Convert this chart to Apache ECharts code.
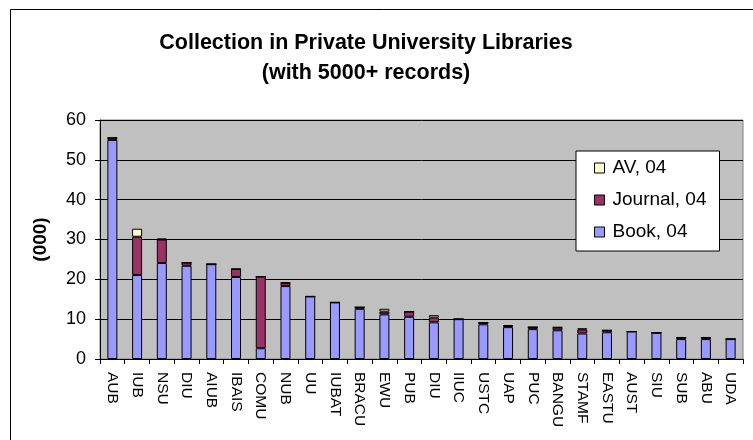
<!DOCTYPE html>
<html><head><meta charset="utf-8">
<script src="https://cdn.jsdelivr.net/npm/echarts@6/dist/echarts.min.js"></script>
<style>html,body{margin:0;padding:0;background:#fff}#c{width:753px;height:440px}</style>
</head><body><div id="c"></div>
<script>
const categories = ["AUB","IUB","NSU","DIU","AIUB","IBAIS","COMU","NUB","UU","IUBAT","BRACU","EWU","PUB","DIU","IIUC","USTC","UAP","PUC","BANGU","STAMF","EASTU","AUST","SIU","SUB","ABU","UDA"];
const book =    [55.0,21.1,24.1,23.4,23.8,20.6,2.7,18.3,15.7,14.2,12.6,11.2,10.6,9.2,10.0,8.7,8.0,7.5,7.2,6.4,6.7,6.9,6.6,5.0,5.0,5.0];
const journal = [0.5,9.6,5.9,0.8,0,2.0,18.0,0.8,0,0,0.4,0.7,1.3,1.2,0,0.4,0.4,0.5,0.7,1.0,0.5,0,0,0.4,0.4,0];
const av =      [0.1,2.0,0.2,0,0,0,0,0.1,0,0,0,0.7,0,0.6,0,0,0,0,0.1,0.3,0,0,0,0,0,0];
const yTicks = [0,10,20,30,40,50,60];

const font = 'Liberation Sans, Arial, sans-serif';
const chart = echarts.init(document.getElementById('c'), null, {renderer:'canvas'});
const mk = (name, data, color) => ({
  name, type:'bar', stack:'s', data, barWidth:10,
  itemStyle:{color, borderColor:'#000', borderWidth:1},
  emphasis:{disabled:true}
});
chart.setOption({
  animation:false,
  graphic:[{type:'rect', shape:{x:10.5,y:9.5,width:800,height:500}, style:{fill:'none',stroke:'#000',lineWidth:1}, z:-10}],
  title:{
    text:'Collection in Private University Libraries\n(with 5000+ records)',
    left:361, top:23, textAlign:'center',
    textStyle:{fontFamily:font, fontSize:21.5, fontWeight:'bold', color:'#000', lineHeight:30}
  },
  grid:{left:100, right:10, top:120, bottom:81, show:true, backgroundColor:'#C0C0C0', borderColor:'#808080', borderWidth:1},
  legend:{
    data:['AV, 04','Journal, 04','Book, 04'], orient:'vertical',
    left:576, top:151,
    padding:[6,13,8,18], itemGap:10, itemWidth:10, itemHeight:10,
    backgroundColor:'#fff', borderColor:'#000', borderWidth:1,
    textStyle:{fontFamily:font, fontSize:19, color:'#000', lineHeight:22, padding:[0,0,0,3]},
    icon:'rect', itemStyle:{borderColor:'#000', borderWidth:1}
  },
  xAxis:{
    type:'category', data:categories, boundaryGap:true,
    axisLine:{lineStyle:{color:'#000'}},
    axisTick:{show:true, length:5, lineStyle:{color:'#000'}},
    axisLabel:{rotate:-90, interval:0, fontFamily:font, fontSize:15.5, color:'#000', margin:13}
  },
  yAxis:{
    type:'value', min:0, max:60, interval:10,
    name:'(000)', nameLocation:'middle', nameGap:50, nameRotate:90,
    nameTextStyle:{fontFamily:font, fontSize:19, fontWeight:'bold', color:'#000'},
    axisLine:{show:true, lineStyle:{color:'#000'}},
    axisTick:{show:true, length:5, lineStyle:{color:'#000'}},
    axisLabel:{fontFamily:font, fontSize:18, color:'#000', margin:14, formatter: v => yTicks.includes(v) ? String(v) : ''},
    splitLine:{show:true, lineStyle:{color:'#000', width:1}}
  },
  series:[
    mk('Book, 04', book, '#9999FF'),
    mk('Journal, 04', journal, '#993366'),
    mk('AV, 04', av, '#FFFFCC')
  ]
});
</script></body></html>
